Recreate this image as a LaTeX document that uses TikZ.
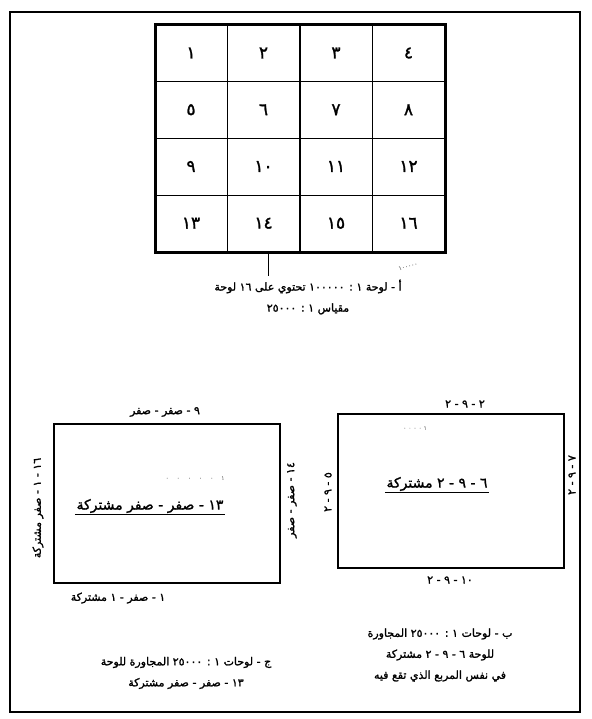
\documentclass[tikz,border=0pt]{standalone}
\usepackage{fontspec}
\usepackage{tikz}
\TeXXeTstate=1
\newfontfamily\arabicfont[Script=Arabic,FakeBold=1.5]{DejaVu Sans}
\newcommand{\rtl}[1]{\beginR #1\endR}

\begin{document}
\begin{tikzpicture}[x=1pt,y=-1pt,
    txt/.style={font=\arabicfont\fontsize{11}{21}\selectfont, inner sep=1pt, align=center},
    midtxt/.style={font=\arabicfont\fontsize{14}{16}\selectfont, inner sep=1.5pt},
    numtxt/.style={font=\arabicfont\fontsize{17}{18}\selectfont, inner sep=0pt},
    faint/.style={font=\arabicfont\fontsize{6}{7}\selectfont, text=black!40, inner sep=0pt}]
    \useasboundingbox (0,0) rectangle (591,719);
    \draw [line width=1.5pt] (10,12) rectangle (580,712);

    % a - the 1:100000 sheet
    \draw [line width=3pt] (155,25) rectangle (445,252);
    \foreach \x in {227.5,300,372.5} \draw [line width=1.2pt] (\x,25) -- (\x,252);
    \foreach \y in {81.75,138.5,195.25} \draw [line width=1.2pt] (155,\y) -- (445,\y);
    \foreach \n [count=\i from 0] in {١,٢,٣,٤,٥,٦,٧,٨,٩,١٠,١١,١٢,١٣,١٤,١٥,١٦} {
        \pgfmathsetmacro\cx{191+72.5*mod(\i,4)}
        \pgfmathsetmacro\cy{53+56.75*floor(\i/4)}
        \node [numtxt] (sheet\i) at (\cx,\cy) {\n};
    }
    \coordinate (tick) at (268,276);
    \draw [line width=1pt] (268,252) -- (tick);
    \node [faint, rotate=15] (scaleA) at (408,266) {١٠٠٠٠٠};
    \node [txt] (capA) at (308,297) {\rtl{أ - لوحة ١ : ١٠٠٠٠٠ تحتوي على ١٦ لوحة}\\ \rtl{مقياس ١ : ٢٥٠٠٠}};

    % c - sheets round 13-0-0
    \draw [line width=1.6pt] (54,424) rectangle (280,583);
    \node [txt] (topC) at (165,412) {\rtl{٩ - صفر - صفر}};
    \node [txt, rotate=90] (leftC) at (38,508) {\rtl{١٦ - ١ - صفر مشتركة}};
    \node [txt, rotate=90] (rightC) at (292,500) {\rtl{١٤ - صفر - صفر}};
    \node [txt] (bottomC) at (118,598) {\rtl{١ - صفر - ١ مشتركة}};
    \node [faint] (dotsC) at (195,478) {\rtl{١ \quad ٠ \quad ٠ \quad ٠ \quad ٠ \quad ٠}};
    \node [midtxt] (midC) at (150,506) {\rtl{١٣ - صفر - صفر مشتركة}};
    \draw [line width=1.2pt] (midC.south west) -- (midC.south east);
    \node [txt] (capC) at (186,673) {\rtl{ج - لوحات ١ : ٢٥٠٠٠ المجاورة للوحة}\\ \rtl{١٣ - صفر - صفر مشتركة}};

    % b - sheets round 6-9-2
    \draw [line width=1.6pt] (338,414) rectangle (564,568);
    \node [txt] (topB) at (465,404) {\rtl{٢ - ٩ - ٢}};
    \node [faint] (dotsB) at (415,428) {\rtl{١ ٠ ٠ ٠ ٠}};
    \node [txt, rotate=90] (leftB) at (328,492) {\rtl{٥ - ٩ - ٢}};
    \node [txt, rotate=90] (rightB) at (572,475) {\rtl{٧ - ٩ - ٢}};
    \node [txt] (bottomB) at (450,580) {\rtl{١٠ - ٩ - ٢}};
    \node [midtxt] (midB) at (437,484) {\rtl{٦ - ٩ - ٢ مشتركة}};
    \draw [line width=1.2pt] (midB.south west) -- (midB.south east);
    \node [txt] (capB) at (440,655) {\rtl{ب - لوحات ١ : ٢٥٠٠٠ المجاورة}\\ \rtl{للوحة ٦ - ٩ - ٢ مشتركة}\\ \rtl{في نفس المربع الذي تقع فيه}};
\end{tikzpicture}
\end{document}
